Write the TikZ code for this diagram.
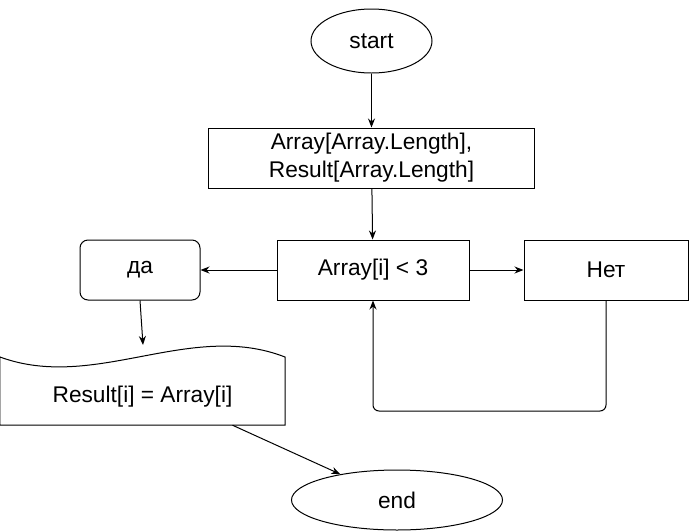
\documentclass[tikz,border=0pt]{standalone}
\usepackage{fontspec}
\setmainfont{Liberation Sans}
\usetikzlibrary{arrows.meta,positioning,shapes.geometric}

\begin{document}
\begin{tikzpicture}[
  x=1pt, y=-1pt,
  every node/.style={font=\fontsize{22.7}{28}\selectfont},
  box/.style={draw, line width=1pt, align=center, minimum height=60pt, inner sep=0pt},
  roundbox/.style={box, rounded corners=8pt},
  term/.style={draw, line width=1pt, ellipse, inner sep=0pt},
  docbox/.style={align=center, minimum height=56pt, minimum width=285pt, inner sep=0pt},
  arrow/.style={-{Stealth[length=9pt,width=7pt]}, line width=1pt}
]
\useasboundingbox (0,0) rectangle (689,531);

\node[term, minimum width=121pt, minimum height=64pt] (start) at (371.5,41) {start};
\node[box, minimum width=326pt, below=54pt of start] (init) {Array[Array.Length],\\Result[Array.Length]};
\node[box, minimum width=192pt] (cond) at (373,270) {Array[i] {\textless} 3};
\node[roundbox, minimum width=120pt, left=76pt of cond] (yes) {да};
\node[box, minimum width=164pt, right=54pt of cond] (no) {Нет};
\node[docbox] (doc) at (142.5,397) {Result[i] = Array[i]};
\node[term, minimum width=211pt, minimum height=60pt] (end) at (397,500) {end};

% document shape with wavy top
\draw[line width=1pt] (doc.south west) -- (0,357)
  .. controls (95,392) and (190,320) .. (285,357) -- (doc.south east) -- cycle;

\coordinate (doctop) at (143,345);
\coordinate (loop) at (373,411);

\draw[arrow] (start) -- (init);
\draw[arrow] (init) -- (cond);
\draw[arrow] (cond) -- (yes);
\draw[arrow] (cond) -- (no);
\draw[arrow, rounded corners=6pt] (no.south) |- (loop) -- (cond.south);
\draw[arrow] (yes.south) -- (doctop);
\draw[arrow] ([xshift=90pt]doc.south) -- (end);
\end{tikzpicture}
\end{document}
